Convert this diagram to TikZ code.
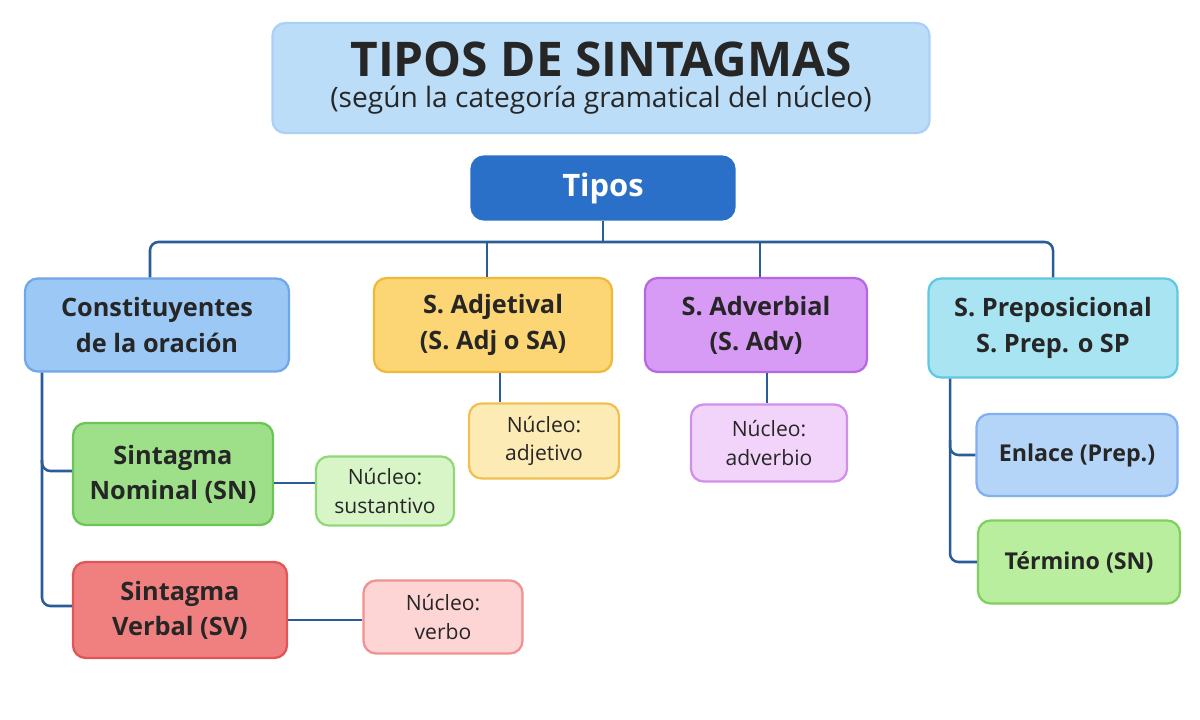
\documentclass[tikz,border=0pt]{standalone}
\usepackage{fontspec}
\setmainfont{Open Sans}
\begin{document}
\begin{tikzpicture}[x=0.025cm,y=-0.025cm,
 box/.style={draw, line width=1.6pt, rounded corners=9pt, align=center, inner sep=0pt, text=black!85},
 big/.style={box, font=\fontsize{18}{25}\selectfont\bfseries},
 small/.style={box, font=\fontsize{15}{20}\selectfont},
 ln/.style={line width=1.8pt, rounded corners=6pt}]
\useasboundingbox (0,0) rectangle (1200,720);
\definecolor{lc}{HTML}{2A5C9A}
\node[box, fill={rgb,255:red,187;green,221;blue,248}, draw={rgb,255:red,170;green,208;blue,245}, minimum width=657*0.025cm, minimum height=110*0.025cm] (title) at (601,78)
 {\fontsize{34}{40}\selectfont\bfseries TIPOS DE SINTAGMAS\\[6pt]\fontsize{20}{24}\selectfont (según la categoría gramatical del núcleo)};
\node[box, fill={rgb,255:red,42;green,112;blue,200}, draw={rgb,255:red,42;green,112;blue,200}, text=white, font=\fontsize{22}{26}\selectfont\bfseries, minimum width=263*0.025cm, minimum height=63*0.025cm] (tipos) at (603,188) {Tipos};
\node[big, fill={rgb,255:red,156;green,200;blue,245}, draw={rgb,255:red,110;green,168;blue,232}, minimum width=264*0.025cm, minimum height=93*0.025cm] (con) at (157,325) {Constituyentes\\de la oración};
\node[big, fill={rgb,255:red,252;green,213;blue,116}, draw={rgb,255:red,240;green,185;blue,58}, minimum width=238*0.025cm, minimum height=94*0.025cm] (adj) at (493,325) {S. Adjetival\\(S. Adj o SA)};
\node[big, fill={rgb,255:red,215;green,155;blue,245}, draw={rgb,255:red,182;green,104;blue,224}, minimum width=222*0.025cm, minimum height=94*0.025cm] (adv) at (756,325) {S. Adverbial\\(S. Adv)};
\node[big, fill={rgb,255:red,168;green,228;blue,242}, draw={rgb,255:red,96;green,200;blue,224}, minimum width=249*0.025cm, minimum height=99*0.025cm] (prep) at (1053,328) {S. Preposicional\\S. Prep. o SP};
\node[big, fill={rgb,255:red,158;green,224;blue,138}, draw={rgb,255:red,108;green,196;blue,86}, minimum width=200*0.025cm, minimum height=102*0.025cm] (sn) at (173,474) {Sintagma\\Nominal (SN)};
\node[big, fill={rgb,255:red,240;green,128;blue,128}, draw={rgb,255:red,224;green,86;blue,86}, minimum width=214*0.025cm, minimum height=96*0.025cm] (sv) at (180,610) {Sintagma\\Verbal (SV)};
\node[small, fill={rgb,255:red,216;green,245;blue,200}, draw={rgb,255:red,144;green,216;blue,120}, minimum width=138*0.025cm, minimum height=69*0.025cm] (nsus) at (385,491) {Núcleo:\\sustantivo};
\node[small, fill={rgb,255:red,253;green,213;blue,213}, draw={rgb,255:red,240;green,144;blue,144}, minimum width=159*0.025cm, minimum height=73*0.025cm] (nverb) at (443,617) {Núcleo:\\verbo};
\node[small, fill={rgb,255:red,253;green,235;blue,181}, draw={rgb,255:red,240;green,192;blue,80}, minimum width=150*0.025cm, minimum height=75*0.025cm] (nadj) at (544,441) {Núcleo:\\adjetivo};
\node[small, fill={rgb,255:red,242;green,212;blue,250}, draw={rgb,255:red,208;green,144;blue,232}, minimum width=156*0.025cm, minimum height=77*0.025cm] (nadv) at (769,443) {Núcleo:\\adverbio};
\node[box, font=\fontsize{16.5}{20}\selectfont\bfseries, fill={rgb,255:red,181;green,213;blue,248}, draw={rgb,255:red,128;green,176;blue,240}, minimum width=201*0.025cm, minimum height=82*0.025cm] (enl) at (1077,455) {Enlace (Prep.)};
\node[box, font=\fontsize{16.5}{20}\selectfont\bfseries, fill={rgb,255:red,184;green,238;blue,158}, draw={rgb,255:red,128;green,208;blue,96}, minimum width=202*0.025cm, minimum height=83*0.025cm] (ter) at (1079,562) {Término (SN)};
\draw[ln,draw=lc] (tipos.south) -- (603,242);
\draw[ln,draw=lc] (con.north -| 150,0) -- (150,242) -- (1053,242) -- (prep.north);
\draw[ln,draw=lc] (487,242) -- (adj.north -| 487,0);
\draw[ln,draw=lc] (760,242) -- (adv.north -| 760,0);
\draw[ln,draw=lc] (con.south -| 42,0) |- (sn.west |- 0,471);
\draw[ln,draw=lc] (42,460) |- (sv.west |- 0,606);
\draw[ln,draw=lc] (sn.east |- 0,483) -- (nsus.west |- 0,483);
\draw[ln,draw=lc] (sv.east |- 0,620) -- (nverb.west |- 0,620);
\draw[ln,draw=lc] (adj.south -| 500,0) -- (nadj.north -| 500,0);
\draw[ln,draw=lc] (adv.south -| 767,0) -- (nadv.north -| 767,0);
\draw[ln,draw=lc] (prep.south -| 950,0) |- (enl.west);
\draw[ln,draw=lc] (950,440) |- (ter.west);
\end{tikzpicture}
\end{document}
